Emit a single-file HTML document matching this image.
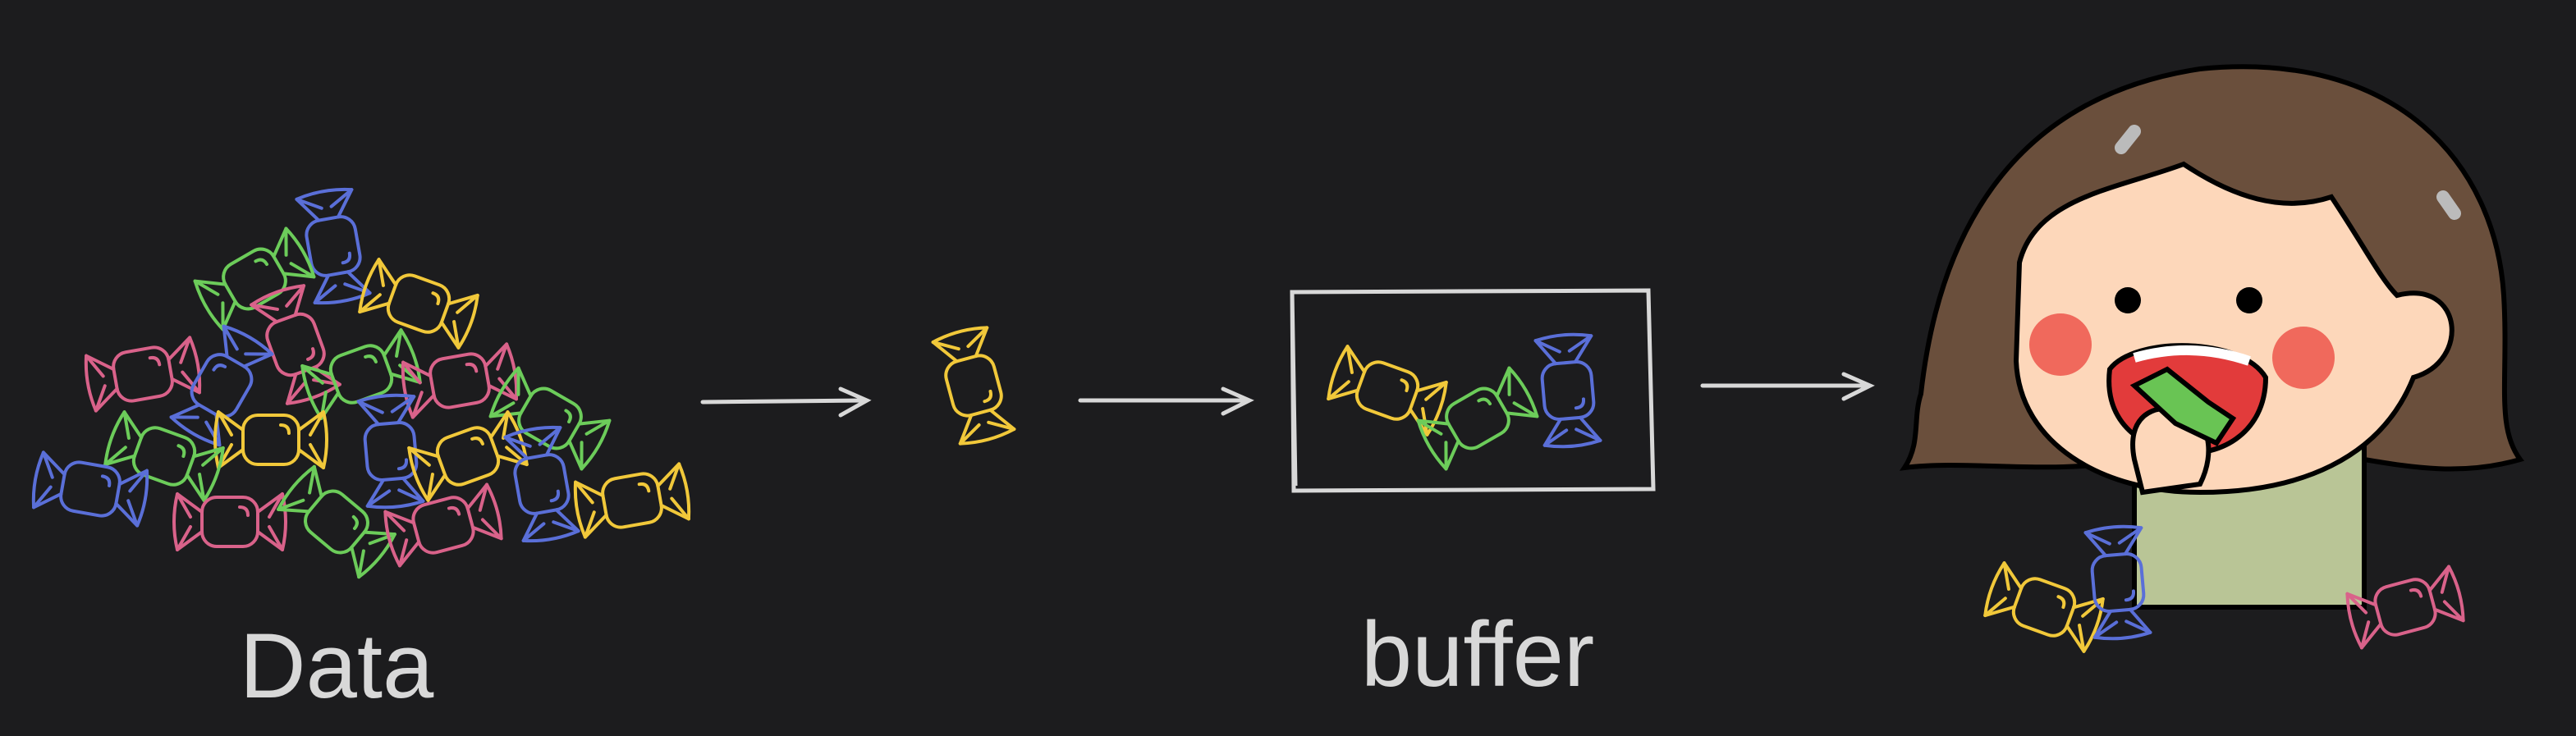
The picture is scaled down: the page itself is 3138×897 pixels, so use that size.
<!DOCTYPE html>
<html><head><meta charset="utf-8"><style>
html,body{margin:0;padding:0;background:#1c1c1e;}
svg{display:block}
</style></head><body>
<svg width="3138" height="897" viewBox="0 0 1569 448.5" xmlns="http://www.w3.org/2000/svg">
<rect width="1569" height="449" fill="#1c1c1e"/>
<defs>
<g id="candy" fill="none" stroke="currentColor" stroke-width="2" stroke-linejoin="round" stroke-linecap="round">
<rect x="-17" y="-15" width="34" height="30" rx="9"/>
<path d="M-17,-6 L-32,-17 Q-36,0 -32,17 L-17,6"/>
<path d="M-32,-17 L-24,-3 M-32,17 L-24,3"/>
<path d="M17,-6 L32,-17 Q36,0 32,17 L17,6"/>
<path d="M32,-17 L24,-3 M32,17 L24,3"/>
<path d="M6,-9 Q11,-9 11,-4"/>
</g>
</defs>
<g id="pile"></g>
<g fill="none" stroke="#d8d8d8" stroke-width="2.5" stroke-linecap="round">
<path d="M428,245 L527,244 M512,237 L528,244 L512,253"/>
<path d="M658,244 L760,244 M745,237 L761,244 L745,252"/>
<path d="M1037,235 L1138,235 M1123,228 L1139,235 L1123,243"/>
</g>
<path d="M787,178 L1004,177 L1007,298 L788,299 Z M787,178 L789,296" fill="none" stroke="#d8d8d8" stroke-width="2.5"/>
<text x="205" y="425" text-anchor="middle" font-family="Liberation Sans, sans-serif" font-size="56" fill="#d8d8d8">Data</text>
<text x="900" y="418" text-anchor="middle" font-family="Liberation Sans, sans-serif" font-size="56" fill="#d8d8d8">buffer</text>
<g stroke="#000" stroke-width="3">
<path d="M1170,240 C1180,150 1220,60 1340,42 C1460,30 1520,100 1525,180 C1528,230 1520,260 1535,280 C1500,290 1470,285 1440,280 L1300,280 C1250,290 1200,280 1160,285 C1170,270 1165,255 1170,240 Z" fill="#6a4f3c"/>
<path d="M1300,270 L1440,270 L1440,370 L1300,370 Z" fill="#b9c596"/>
<path d="M1230,160 C1240,120 1290,115 1330,100 C1360,120 1390,130 1420,120 C1440,150 1450,170 1460,180 C1500,170 1505,220 1470,230 C1450,280 1400,300 1340,300 C1280,300 1230,270 1228,220 Z" fill="#fdd7ba"/>
<circle cx="1255" cy="210" r="19" fill="#f0695c" stroke="none"/>
<circle cx="1403" cy="218" r="19" fill="#f0695c" stroke="none"/>
<circle cx="1296" cy="183" r="8" fill="#000" stroke="none"/>
<circle cx="1370" cy="183" r="8" fill="#000" stroke="none"/>
<path d="M1285,225 C1300,205 1365,205 1380,230 C1380,265 1350,280 1325,275 C1295,270 1282,250 1285,225 Z" fill="#e23b3b"/>
<path d="M1300,218 Q1335,208 1370,220" fill="none" stroke="#fff" stroke-width="6"/>
<path d="M1300,280 C1295,255 1310,245 1330,250 C1345,255 1350,275 1340,295 L1305,300 Z" fill="#fdd7ba"/>
<path d="M1300,235 L1320,225 L1345,245 L1360,255 L1350,270 L1325,258 Z" fill="#69c454"/>
<path d="M1292,90 L1300,80 M1488,120 L1495,130" stroke="#bbb" stroke-width="8" stroke-linecap="round"/>
</g>
<g id="loose"></g>
</svg>
<script>
const NS='http://www.w3.org/2000/svg';
const C={p:'#d9628a',b:'#5a6fd8',g:'#6ccc5a',y:'#f1c83a'};
const pileCandies=[['p',87,228,-10],['b',203,150,80],['g',155,170,-30],['y',255,185,20],['p',180,210,70],['b',135,235,-60],['g',220,228,-20],['p',280,232,-10],['g',335,255,30],['y',165,268,0],['b',238,275,85],['y',285,278,-20],['g',100,278,20],['b',55,298,10],['p',140,318,0],['g',205,318,40],['p',270,320,-15],['b',330,295,80],['y',385,305,-10]];
const looseCandies=[['y',593,235,75],['y',845,238,20],['g',900,255,-30],['b',955,238,85],['y',1245,370,20],['b',1290,355,85],['p',1465,370,-15]];
function draw(list,parentId,name){
 const par=document.getElementById(parentId);
 list.forEach(c=>{
  const u=document.createElementNS(NS,'use');
  u.setAttribute('href','#candy');
  u.setAttribute('transform',`translate(${c[1]},${c[2]}) rotate(${c[3]})`);
  u.setAttribute('color',C[c[0]]);
  
  
  par.appendChild(u);
 });
}
draw(pileCandies,'pile','candy');
draw(looseCandies,'loose','candy');
</script>
</body></html>
